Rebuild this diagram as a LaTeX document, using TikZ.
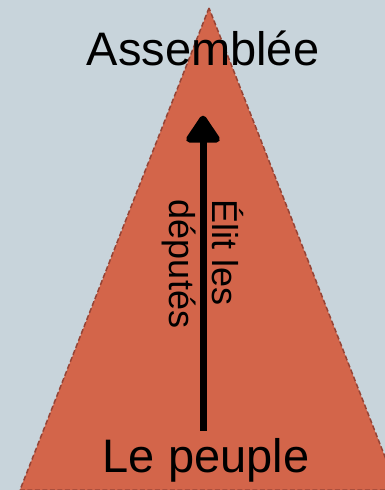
\documentclass[tikz,border=0pt]{standalone}
\usepackage{fontspec}
\setmainfont{Liberation Sans}
\usetikzlibrary{arrows.meta,positioning,calc}
\definecolor{fond}{RGB}{200,212,219}
\definecolor{pyramide}{RGB}{211,101,74}
\definecolor{bord}{RGB}{150,68,54}

\begin{document}
\begin{tikzpicture}[x=1pt,y=-1pt,
    titre/.style={font=\fontsize{47}{52}\selectfont,inner sep=3pt},
    vote/.style={-{Triangle[width=38pt,length=30pt,round]},line width=7pt,line cap=butt}]
	\useasboundingbox (0,0) rectangle (385,490);
	\fill[fond] (0,0) rectangle (385,490);
	\clip (0,0) rectangle (385,490);
	\coordinate (sommet) at (209,8);
	\filldraw[fill=pyramide,draw=bord,line width=1.5pt,dash pattern=on 5pt off 2.5pt] (sommet) -- (20,490) -- (398,490) -- cycle;
	\node (assemblee) [titre,anchor=base] at (203,65) {Assemblée};
	\node (peuple) [titre,anchor=base] at (206,472) {Le peuple};
	\node (elit) [rotate=-90,align=left,font=\fontsize{36}{43}\selectfont,inner sep=0pt] at (203,264) {Élit les\\députés};
	\draw [vote,shorten <=4pt] (peuple.north -| elit.center) to ($(assemblee.south -| elit.center)+(0,47)$);
\end{tikzpicture}
\end{document}
